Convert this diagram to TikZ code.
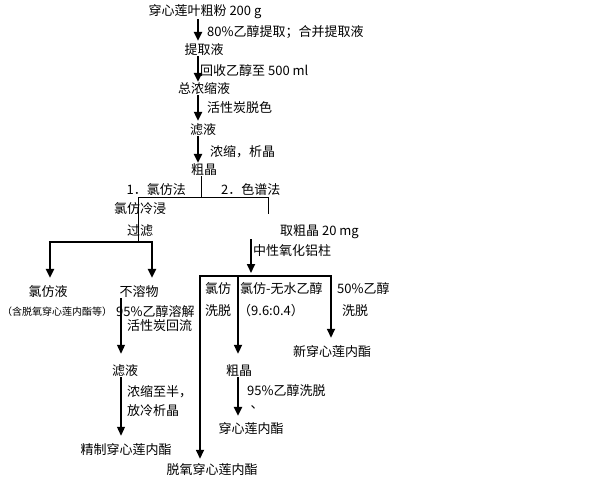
\documentclass[tikz,border=0pt]{standalone}
\usepackage{fontspec}
\newfontfamily\cjk{Noto Sans CJK SC}
\usepackage{tikz}
\usetikzlibrary{positioning,arrows.meta,calc}
\tikzset{
  stage/.style={inner sep=0pt,font=\cjk\fontsize{13}{15}\selectfont},
  note/.style={stage,anchor=west},
  flow/.style={-{Triangle[length=9pt,width=8pt]},line width=2.4pt,shorten >=3pt},
  midflow/.style={flow,line width=1.7pt},
  slimflow/.style={flow,line width=1.2pt},
  linkline/.style={line width=0.9pt},
  forkline/.style={line width=2.2pt},
}

\begin{document}
\begin{tikzpicture}[x=1pt,y=-1pt]
  \useasboundingbox (0,0) rectangle (593,500);
  % Extraction chain
  \node[stage] (raw)   at (205,12)  {穿心莲叶粗粉 200 g};
  \node[note]  (l1)    at (207,32)  {80\%乙醇提取；合并提取液};
  \node[stage] (ext)   at (204,50)  {提取液};
  \node[note]  (l2)    at (200,71)  {回收乙醇至 500 ml};
  \node[stage] (conc)  at (204,89)  {总浓缩液};
  \node[note]  (l3)    at (207,108) {活性炭脱色};
  \node[stage] (filt)  at (203,130) {滤液};
  \node[note]  (l4)    at (210,152) {浓缩，析晶};
  \node[stage] (crude) at (204,170) {粗晶};
  \coordinate (trunk) at (198,0);
  \draw[flow] (raw.south -| trunk) -- (ext.north -| trunk);
  \draw[flow,shorten >=1pt] (ext.south -| trunk) -- (conc.north -| trunk);
  \draw[flow] (conc.south -| trunk) -- (filt.north -| trunk);
  \draw[flow,shorten >=1pt] (filt.south -| trunk) -- (crude.north -| trunk);
  % Split into two methods
  \node[stage,anchor=east] (m1) at (186,190) {1．氯仿法};
  \node[note]              (m2) at (221,190) {2．色谱法};
  \coordinate (split) at (201,197);
  \coordinate (lc) at (138,197);
  \coordinate (rc) at (268,197);
  \coordinate (rend) at (268,214);
  \draw[linkline] (crude.south -| split) -- (split);
  \draw[linkline] (lc) -- (rc);
  \draw[linkline] (rc) -- (rend);
  % Method 1 (chloroform)
  \node[stage] (soak)  at (140,209) {氯仿冷浸};
  \node[stage] (filt2) at (140,231) {过滤};
  \coordinate (lfork) at (138,242);
  \coordinate (fa) at (50,242);
  \coordinate (fb) at (152,242);
  \draw[linkline] (lc) -- (lfork);
  \draw[forkline] ([xshift=-1.1pt]fa) -- ([xshift=1.1pt]fb);
  \node[stage] (chlsol) at (48,292)  {氯仿液};
  \node[stage] (insol)  at (139,292) {不溶物};
  \node[inner sep=0pt,font=\cjk\fontsize{10}{12}\selectfont] (chlnote) at (57,312) {（含脱氧穿心莲内酯等）};
  \draw[flow,shorten >=8pt] (fa) -- (chlsol.north -| fa);
  \draw[flow,shorten >=8pt] (fb) -- (insol.north -| fb);
  \node[note]  (dis1)  at (116,312) {95\%乙醇溶解};
  \node[note]  (dis2)  at (127,326) {活性炭回流};
  \node[stage] (filt3) at (125,371) {滤液};
  \node[note]  (l5)    at (127,392) {浓缩至半，};
  \node[note]  (l6)    at (127,411) {放冷析晶};
  \node[stage] (pure)  at (126,450) {精制穿心莲内酯};
  \coordinate (dcol) at (121,0);
  \draw[slimflow,shorten >=11pt] (insol.south -| dcol) -- (filt3.north -| dcol);
  \draw[slimflow,shorten >=8pt] (filt3.south -| dcol) -- (pure.north -| dcol);
  % Method 2 (column chromatography)
  \node[note] (take) at (280,232) {取粗晶 20 mg};
  \node[note] (col)  at (253,251) {中性氧化铝柱};
  \coordinate (cjoin) at (251,276);
  \coordinate (ca) at (200,276);
  \coordinate (cb) at (238,276);
  \coordinate (cc) at (331,276);
  \draw[midflow] (take.south -| cjoin) -- (cjoin);
  \draw[forkline,line width=1.6pt] ([xshift=-0.8pt]ca) -- ([xshift=0.8pt]cc);
  \node[stage] (e1a) at (218,289) {氯仿};
  \node[stage] (e1b) at (218,311) {洗脱};
  \node[note]  (e2a) at (240,289) {氯仿-无水乙醇};
  \node[note]  (e2b) at (238,311) {（9.6:0.4）};
  \node[note]  (e3a) at (337,289) {50\%乙醇};
  \node[stage] (e3b) at (355,311) {洗脱};
  \node[stage] (neo)    at (332,352) {新穿心莲内酯};
  \node[stage] (crude2) at (239,371) {粗晶};
  \node[note]  (l7)     at (247,391) {95\%乙醇洗脱};
  \node[stage] (dot)    at (257,407) {、};
  \node[stage] (andro)  at (251,429) {穿心莲内酯};
  \node[stage] (deoxy)  at (212,470) {脱氧穿心莲内酯};
  \draw[midflow,shorten >=5pt] (ca) -- (deoxy.north -| ca);
  \draw[midflow,shorten >=11pt] (cb) -- (crude2.north -| cb);
  \draw[midflow,shorten >=8pt] (cc) -- (neo.north -| cc);
  \draw[flow,shorten >=7pt] (crude2.south -| cb) -- (andro.north -| cb);
\end{tikzpicture}
\end{document}
